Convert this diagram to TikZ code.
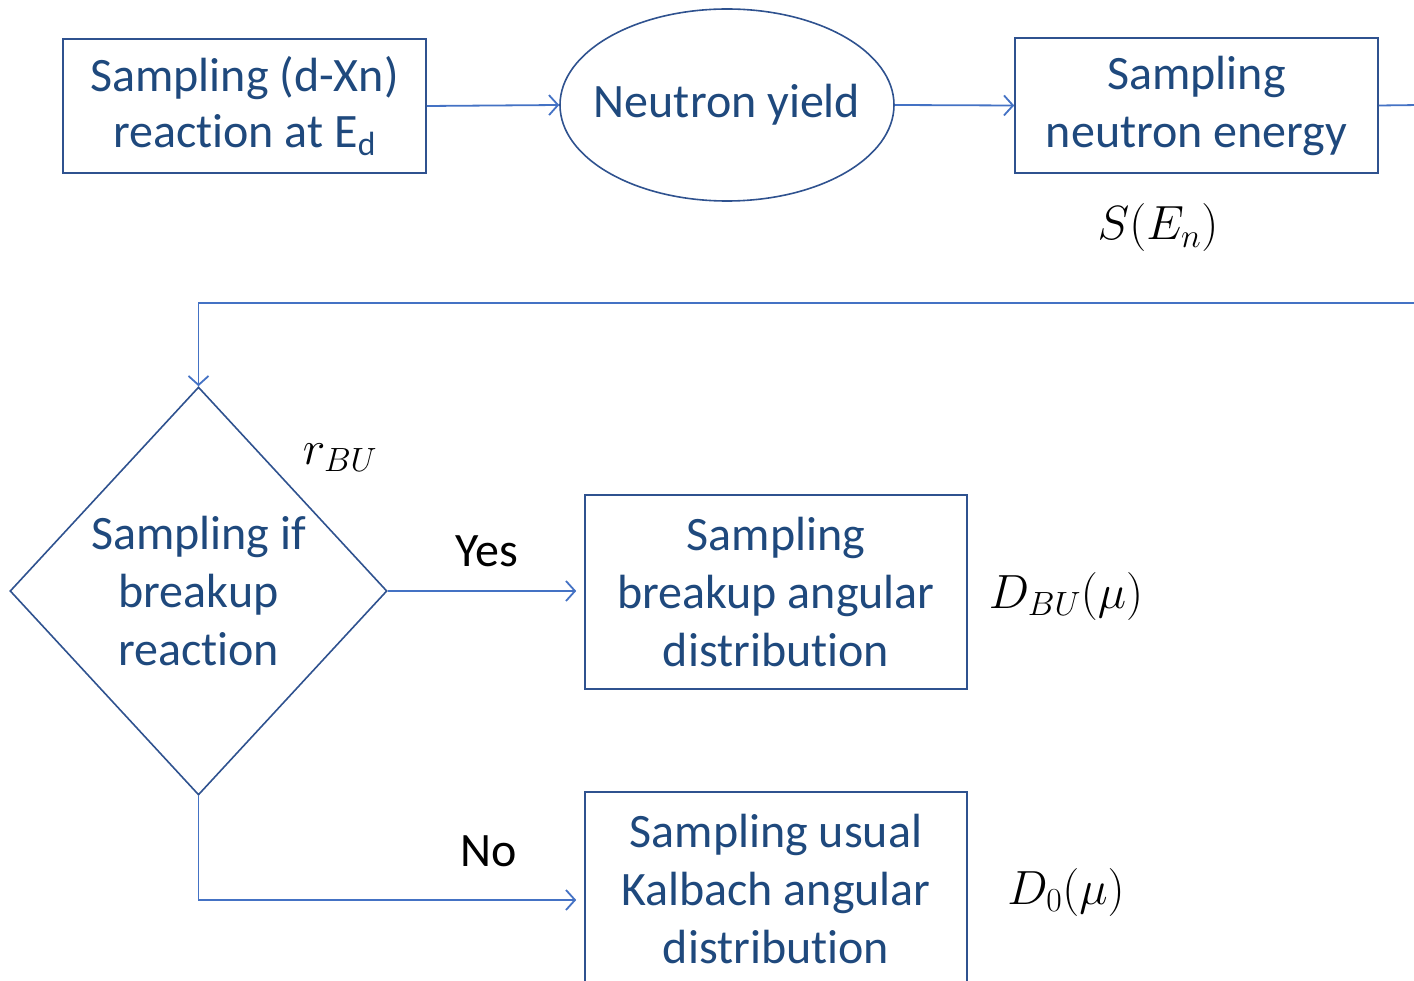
\documentclass[tikz,border=0pt]{standalone}
\usepackage{fix-cm}
\usepackage{fontspec}
\setmainfont{Carlito}[RawFeature=-liga]
\usetikzlibrary{shapes.geometric,arrows.meta}
\definecolor{txt}{RGB}{31,73,125}
\definecolor{bord}{RGB}{47,82,143}
\definecolor{conn}{RGB}{68,114,196}
\begin{document}
\begin{tikzpicture}[x=1pt,y=-1pt,
  big/.style={font=\fontsize{48}{58}\selectfont},
  box/.style={big,draw=bord,line width=1.6pt,minimum width=363pt,minimum height=134pt,align=center,text=txt,inner sep=0pt},
  arr/.style={draw=conn,line width=1.8pt,-{Straight Barb[length=9pt,width=20pt,line width=1.8pt]}},
  ln/.style={draw=conn,line width=1.8pt},
  lab/.style={big,text=black,inner sep=0pt},
]
\useasboundingbox (0,0) rectangle (1414,981);
\clip (0,0) rectangle (1414,981);

\node[box] (b1) at (244.5,106) {\raisebox{-2pt}{Sampling (d-Xn)}\\reaction at E\textsubscript{d}};
\node[big,draw=bord,line width=1.6pt,ellipse,minimum width=334pt,minimum height=192pt,inner sep=0pt,text=txt] (ell) at (727,105) {\makebox[0pt]{\raisebox{-4pt}{Neutron yield}}};
\node[box,minimum height=135pt] (b3) at (1196.5,105.5) {\raisebox{-3pt}{Sampling}\\\raisebox{-3pt}{neutron energy}};
\node[lab] (sen) at (1158,228) {$S(E_n)$};

\node[big,draw=bord,line width=1.6pt,diamond,aspect=0.924,minimum width=377pt,minimum height=408pt,inner sep=0pt,align=center,text=txt] (dia) at (198.5,591) {Sampling if\\breakup\\reaction};
\node[lab] (rbu) at (340,458) {$r_{BU}$};

\node[box,minimum width=382pt,minimum height=194pt] (b4) at (776,592) {Sampling\\breakup angular\\distribution};
\node[lab] (dbu) at (1066,596) {$D_{BU}(\mu)$};
\node[box,minimum width=382pt,minimum height=194pt] (b5) at (776,889) {Sampling usual\\Kalbach angular\\distribution};
\node[lab] (d0) at (1066,892) {$D_0(\mu)$};

\node[lab] (yes) at (487,551) {Yes};
\node[lab] (no) at (489,851) {No};

\coordinate (r1) at (1420,105);
\coordinate (r2) at (1420,303);

\draw[arr] (b1.east) -- (ell.west);
\draw[arr] (ell.east) -- (b3.west);
\draw[ln] (b3.east) -- (r1);
\draw[arr] (r2) -| (dia.north);
\draw[arr,shorten >=8pt] (dia.east) -- (dia.east -| b4.west);
\draw[arr,shorten >=8pt] (dia.south) |- ([yshift=-11pt]b5.west);
\end{tikzpicture}
\end{document}
